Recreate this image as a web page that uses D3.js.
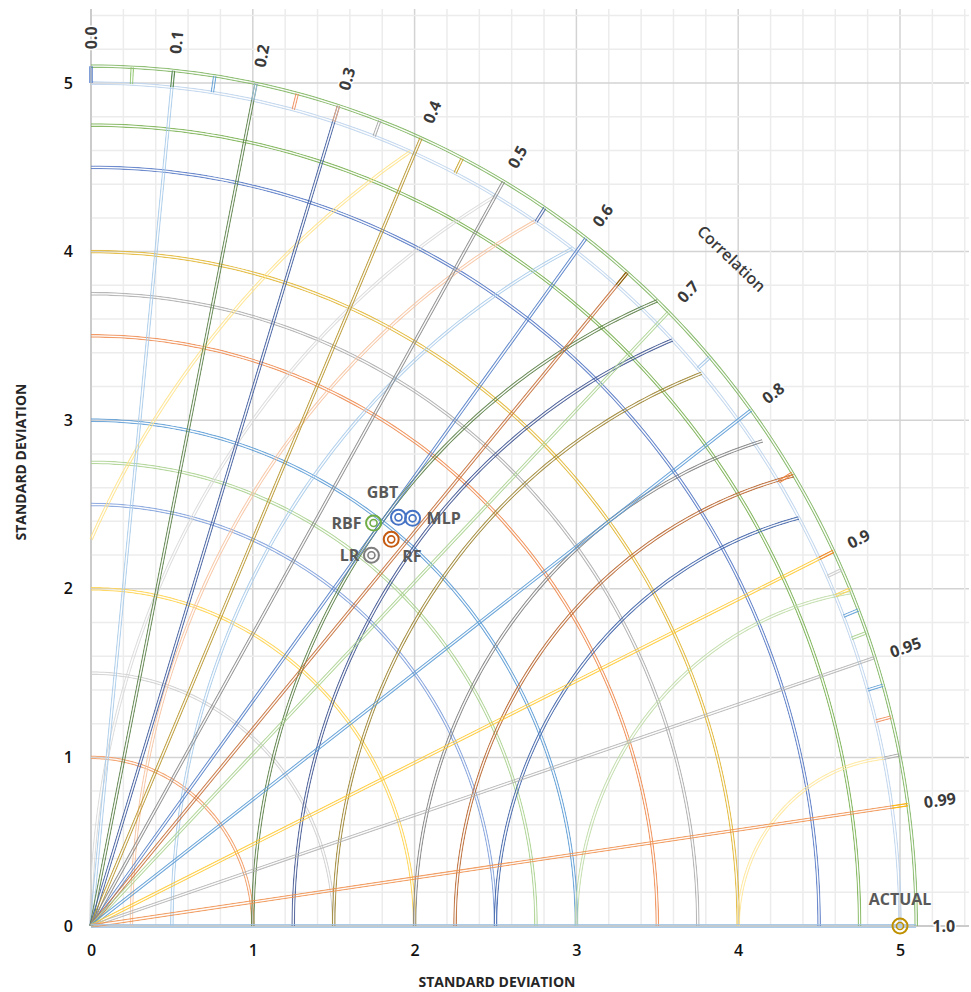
<!DOCTYPE html>
<html>
<head>
<meta charset="utf-8">
<script src="https://cdn.jsdelivr.net/npm/d3@7"></script>
<style>
body { margin: 0; background: #fff; }
text { font-family: "Open Sans", sans-serif; }
</style>
</head>
<body>
<div id="chart"></div>
<script>
var width = 971, height = 992;

// reference (ACTUAL) standard deviation
var refStd = 5;

// models: standard deviation and correlation with ACTUAL
var models = ['GBT', 'MLP', 'RBF', 'RF', 'LR'];
var modelStd = [3.08, 3.13, 2.96, 2.95, 2.80];
var modelCorr = [0.617, 0.635, 0.590, 0.629, 0.619];
var modelColors = ['#4472C4', '#4472C4', '#70AD47', '#C55A11', '#7F7F7F'];
var labelPos = ['top', 'right', 'left', 'bottomright', 'left'];

// std deviation arcs (centred on origin)
var stdLevels = [1, 1.5, 2, 2.5, 2.75, 3, 3.5, 3.75, 4, 4.5, 4.75, 5, 5.1];
var stdColors = ['#F19A62', '#CFCFCF', '#FFD24D', '#7F9FDB', '#A9D18E', '#5B9BD5', '#EE8A4E',
                 '#ABABAB', '#E0B530', '#5578C4', '#78B050', '#BDD3EC', '#7FB560'];

// RMSD arcs (centred on ACTUAL)
var rmsLevels = [1, 2, 2.5, 2.75, 3, 3.5, 3.75, 4, 4.5, 4.75, 5, 5.5];
var rmsColors = ['#FFE699', '#BFDCA8', '#3F63A8', '#B8652E', '#808080', '#9C8430', '#3E5390',
                 '#5A7F45', '#A9CBEA', '#F7C3A0', '#D9D9D9', '#FFE38A'];
var rmsOuter = [5, 5.1, 5, 5.1, 5.05, 5, 5, 5.1, 5, 5, 5, 5];

// correlation rays
var corrLines = [0.1, 0.2, 0.3, 0.4, 0.5, 0.6, 0.65, 0.7, 0.8, 0.9, 0.95, 0.99, 1.0];
var corrColors = ['#A9CBEA', '#5A8048', '#3F5C9E', '#B8972E', '#8A8A8A', '#5580C8', '#C7703A',
                  '#A9D18E', '#5B9BD5', '#FFC933', '#B5B5B5', '#F0904F', '#9DC3E6'];

// short ticks on the rim
var corrTicks = [0, 0.05, 0.1, 0.15, 0.2, 0.25, 0.3, 0.35, 0.45, 0.55, 0.65, 0.75, 0.85,
                 0.9, 0.91, 0.92, 0.93, 0.94, 0.96, 0.97, 0.98, 0.99];
var tickColors = ['#4472C4', '#8CC36A', '#548235', '#5B9BD5', '#9DC3E6', '#F08C5A', '#F4B183', '#A5A5A5',
                  '#C9A227', '#4A66A8', '#7F6000', '#9DC3E6', '#ED7D31',
                  '#ED7D31', '#C9C9C9', '#FFD24D', '#5B9BD5', '#A9D18E', '#5B9BD5', '#F08C5A', '#A5A5A5', '#FFC000'];

var corrLabels = ['0.0', '0.1', '0.2', '0.3', '0.4', '0.5', '0.6', '0.7', '0.8', '0.9', '0.95', '0.99', '1.0'];
var axisTicks = [0, 1, 2, 3, 4, 5];

var x = d3.scaleLinear().domain([0, 5]).range([91, 900]);
var y = d3.scaleLinear().domain([0, 5]).range([926, 83]);
var xMax = x.invert(969), yMax = y.invert(9);

var svg = d3.select('#chart').append('svg')
    .attr('width', width)
    .attr('height', height);
var defs = svg.append('defs');

var line = d3.line()
    .x(function(p) { return x(p[0]); })
    .y(function(p) { return y(p[1]); });

// grid
var grid = svg.append('g');
var steps = d3.range(0, 5.41, 0.2);
steps.forEach(function(v) {
    var major = Math.abs(v - Math.round(v)) < 1e-6;
    grid.append('line')
        .attr('x1', x(v)).attr('x2', x(v))
        .attr('y1', y(0)).attr('y2', y(yMax))
        .attr('stroke', major ? '#D3D3D3' : '#ECECEC')
        .attr('stroke-width', 1.5);
    grid.append('line')
        .attr('x1', x(0)).attr('x2', x(xMax))
        .attr('y1', y(v)).attr('y2', y(v))
        .attr('stroke', major ? '#D3D3D3' : '#ECECEC')
        .attr('stroke-width', 1.5);
});
grid.append('line')
    .attr('x1', x(0)).attr('x2', x(0))
    .attr('y1', y(0)).attr('y2', y(yMax))
    .attr('stroke', '#C4C4C4').attr('stroke-width', 1.5);
grid.append('line')
    .attr('x1', x(0)).attr('x2', x(xMax))
    .attr('y1', y(0)).attr('y2', y(0))
    .attr('stroke', '#C4C4C4').attr('stroke-width', 1.5);

// excel style double line: coloured stroke with a see-through centre
var lineId = 0;
function doubleLine(g, d, color) {
    var id = 'dl' + (lineId++);
    var m = defs.append('mask').attr('id', id)
        .attr('maskUnits', 'userSpaceOnUse')
        .attr('x', 0).attr('y', 0).attr('width', width).attr('height', height);
    m.append('path').attr('d', d).attr('fill', 'none').attr('stroke', '#fff').attr('stroke-width', 3.8);
    m.append('path').attr('d', d).attr('fill', 'none').attr('stroke', '#000').attr('stroke-width', 1.3);
    g.append('path').attr('d', d)
        .attr('fill', 'none')
        .attr('stroke', color)
        .attr('stroke-opacity', 0.85)
        .attr('stroke-width', 3.8)
        .attr('mask', 'url(#' + id + ')');
}

var marks = svg.append('g');

// std arcs
stdLevels.forEach(function(r, i) {
    var pts = d3.range(0, 121).map(function(k) {
        var a = Math.PI / 2 * k / 120;
        return [r * Math.cos(a), r * Math.sin(a)];
    });
    doubleLine(marks, line(pts), stdColors[i]);
});

// RMSD arcs
rmsLevels.forEach(function(r, i) {
    var a0 = r <= refStd ? Math.PI : Math.acos(-refStd / r);
    var e = rmsOuter[i];
    var a1 = Math.acos((e * e - refStd * refStd - r * r) / (2 * refStd * r));
    var pts = d3.range(0, 121).map(function(k) {
        var a = a0 + (a1 - a0) * k / 120;
        return [refStd + r * Math.cos(a), r * Math.sin(a)];
    });
    doubleLine(marks, line(pts), rmsColors[i]);
});

// correlation rays
corrLines.forEach(function(c, i) {
    var s = Math.sqrt(1 - c * c);
    doubleLine(marks, line([[0, 0], [5.1 * c, 5.1 * s]]), corrColors[i]);
});

// rim ticks
corrTicks.forEach(function(c, i) {
    var s = Math.sqrt(1 - c * c);
    doubleLine(marks, line([[5.0 * c, 5.0 * s], [5.1 * c, 5.1 * s]]), tickColors[i]);
});

// axes
var xAxis = svg.append('g')
    .attr('transform', 'translate(0,' + y(0) + ')')
    .call(d3.axisBottom(x).tickValues(axisTicks).tickSize(0).tickPadding(19).tickFormat(d3.format('d')));
var yAxis = svg.append('g')
    .attr('transform', 'translate(' + x(0) + ',0)')
    .call(d3.axisLeft(y).tickValues(axisTicks).tickSize(0).tickPadding(18).tickFormat(d3.format('d')));
[xAxis, yAxis].forEach(function(a) {
    a.select('.domain').remove();
    a.selectAll('text')
        .style('font-family', '"Open Sans", sans-serif')
        .style('font-size', '16px')
        .style('font-weight', '600')
        .attr('fill', '#111');
});

svg.append('text')
    .attr('x', 497).attr('y', 987)
    .attr('text-anchor', 'middle')
    .style('font-size', '14px').style('font-weight', 'bold')
    .attr('fill', '#262626')
    .text('STANDARD DEVIATION');
svg.append('text')
    .attr('transform', 'translate(26,462) rotate(-90)')
    .attr('text-anchor', 'middle')
    .style('font-size', '14px').style('font-weight', 'bold')
    .attr('fill', '#262626')
    .text('STANDARD DEVIATION');

// correlation labels
var kx = x(1) - x(0), ky = y(0) - y(1);
corrLabels.forEach(function(lbl) {
    var c = +lbl, s = Math.sqrt(1 - c * c);
    var ang = Math.atan2(-s * ky, c * kx) * 180 / Math.PI;
    svg.append('text')
        .attr('transform', 'translate(' + x(5.2 * c) + ',' + y(5.2 * s) + ') rotate(' + ang + ')')
        .attr('dominant-baseline', 'central')
        .style('font-size', '16px').style('font-weight', 'bold')
        .attr('fill', '#3a3a3a')
        .attr('stroke', '#fff').attr('stroke-width', 3).attr('paint-order', 'stroke')
        .text(lbl);
});
(function() {
    var a = Math.PI / 4;
    var ang = Math.atan2(-Math.sin(a) * ky, Math.cos(a) * kx) * 180 / Math.PI + 90;
    svg.append('text')
        .attr('transform', 'translate(' + x(5.6 * Math.cos(a)) + ',' + y(5.6 * Math.sin(a)) + ') rotate(' + ang + ')')
        .attr('text-anchor', 'middle')
        .attr('dominant-baseline', 'central')
        .style('font-size', '16px').style('font-weight', '600')
        .attr('fill', '#3a3a3a')
        .text('Correlation');
})();

// model points
var pts = svg.append('g');
function target(px, py, color) {
    pts.append('circle').attr('cx', px).attr('cy', py).attr('r', 7.5)
        .attr('fill', 'none').attr('stroke', color).attr('stroke-width', 2);
    pts.append('circle').attr('cx', px).attr('cy', py).attr('r', 3.5)
        .attr('fill', 'none').attr('stroke', color).attr('stroke-width', 1.6);
}
function label(txt, px, py, anchor) {
    pts.append('text').attr('x', px).attr('y', py)
        .attr('text-anchor', anchor)
        .style('font-size', '16px').style('font-weight', 'bold')
        .attr('fill', '#595959')
        .text(txt);
}
models.forEach(function(m, i) {
    var px = x(modelStd[i] * modelCorr[i]);
    var py = y(modelStd[i] * Math.sqrt(1 - modelCorr[i] * modelCorr[i]));
    target(px, py, modelColors[i]);
    var p = labelPos[i];
    if (p === 'top') label(m, px - 16, py - 19, 'middle');
    else if (p === 'right') label(m, px + 14, py + 6, 'start');
    else if (p === 'left') label(m, px - 12, py + 6, 'end');
    else label(m, px + 11, py + 23, 'start');
});
target(x(refStd), y(0), '#BF9000');
label('ACTUAL', x(refStd), y(0) - 21, 'middle');
</script>
</body>
</html>
